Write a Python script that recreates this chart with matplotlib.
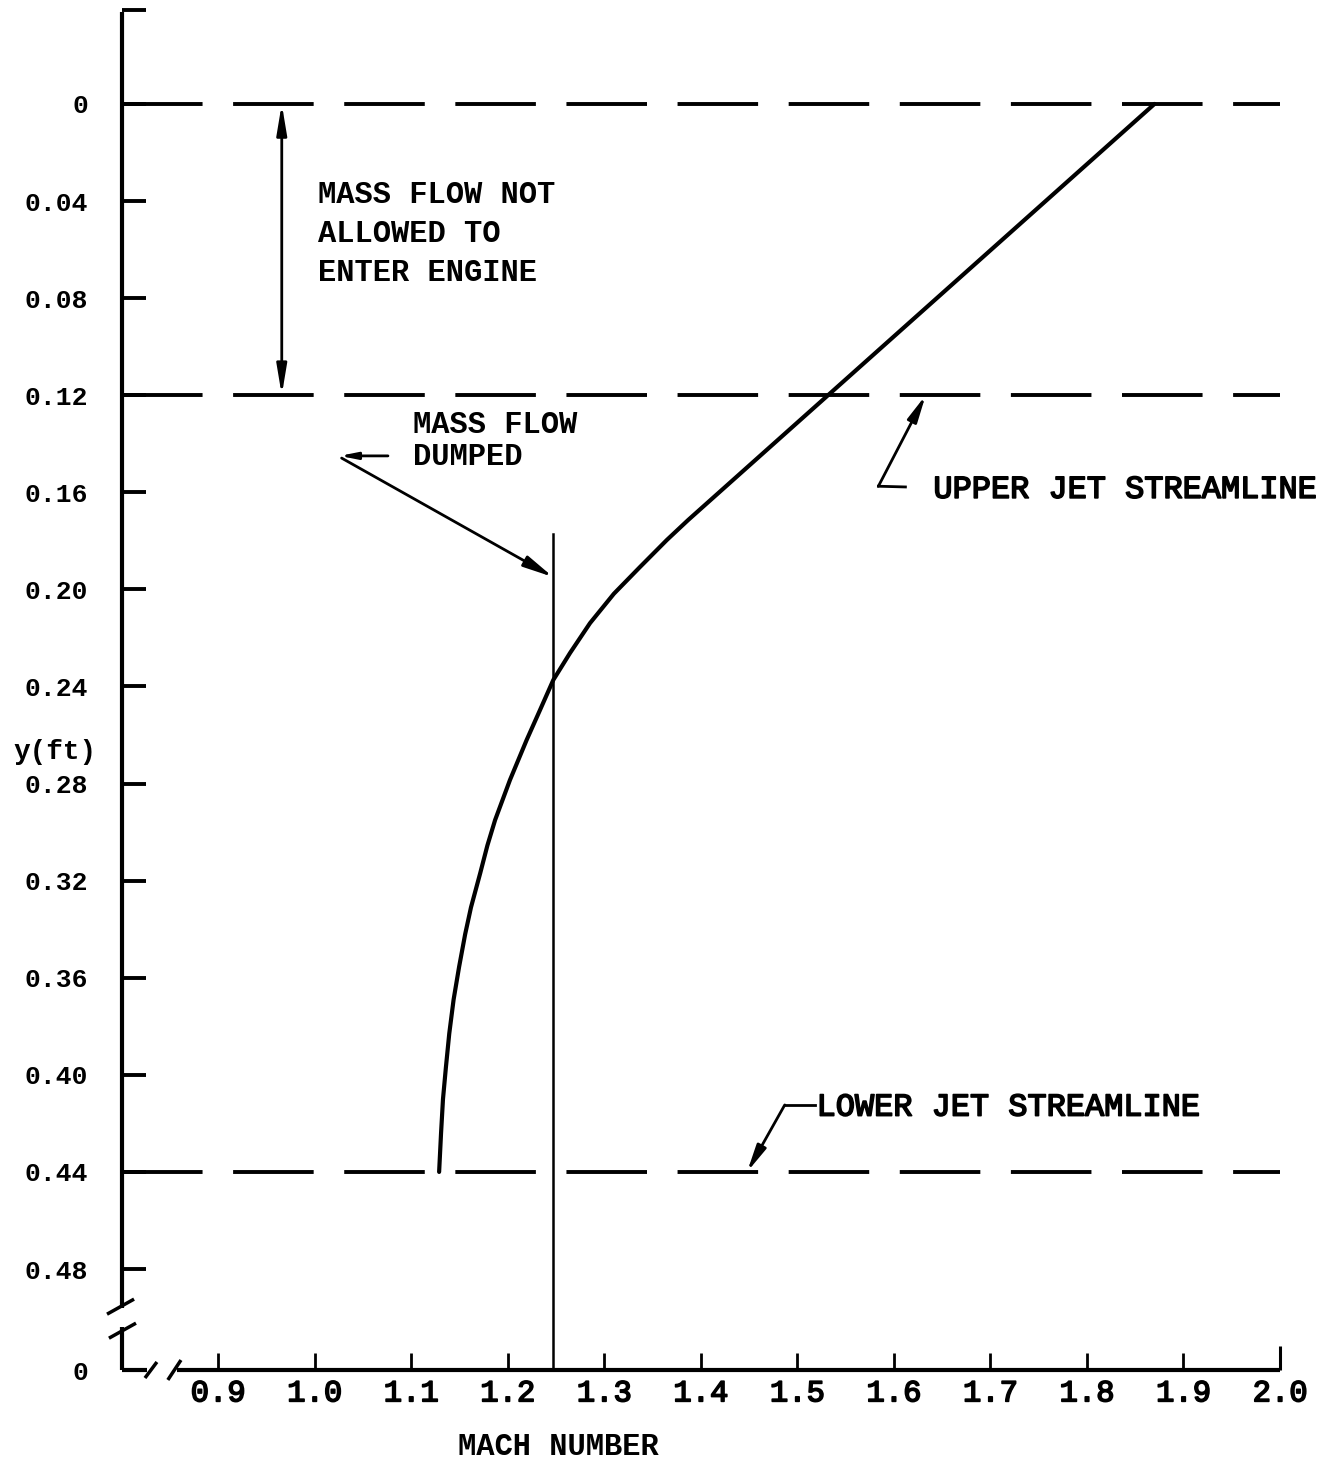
"""Mach number distribution across the jet, with jet streamlines and dumped mass flow."""

import matplotlib.pyplot as plt
import matplotlib.patheffects as pe

plt.rcParams["font.family"] = ["Liberation Mono", "DejaVu Sans Mono"]
plt.rcParams["lines.scale_dashes"] = False

# Mach number profile
mach = [1.129, 1.131, 1.133, 1.136, 1.1395, 1.144, 1.1497, 1.156, 1.162, 1.1715,
        1.179, 1.187, 1.2024, 1.2197, 1.2335, 1.2473, 1.2646, 1.2853, 1.310,
        1.337, 1.365, 1.387, 1.870]
y_ft = [0.440, 0.424, 0.410, 0.397, 0.383, 0.369, 0.3555, 0.342, 0.331, 0.317,
        0.3055, 0.295, 0.2785, 0.262, 0.2497, 0.2373, 0.2262, 0.2139, 0.2018,
        0.1908, 0.1796, 0.1714, 0.0]

streamlines = [0.0, 0.12, 0.44]      # y of the dashed lines
dump_mach = 1.247                    # vertical line
dump_top = 0.177

x_ticks = [0.9, 1.0, 1.1, 1.2, 1.3, 1.4, 1.5, 1.6, 1.7, 1.8, 1.9]
y_ticks = [0.0, 0.04, 0.08, 0.12, 0.16, 0.20, 0.24, 0.28, 0.32, 0.36, 0.40, 0.44, 0.48]
y_labels = ["0", "0.04", "0.08", "0.12", "0.16", "0.20", "0.24", "0.28",
            "0.32", "0.36", "0.40", "0.44", "0.48"]

XMIN, XMAX = 0.8, 2.0
YTOP, YBOT = -0.0387, 0.5216

W, H = 1333, 1466
fig = plt.figure(figsize=(W / 100, H / 100), dpi=100)
ax = fig.add_axes([121.5 / W, (H - 1370) / H, (1280 - 121.5) / W, (1370 - 10) / H])
ax.set_xlim(XMIN, XMAX)
ax.set_ylim(YBOT, YTOP)
for s in ax.spines.values():
    s.set_visible(False)

ink = dict(color="black", clip_on=False, solid_capstyle="butt")
thick = [pe.withStroke(linewidth=1.2, foreground="black")]

# broken left axis
ax.plot([XMIN, XMIN], [YTOP + 0.0008, 0.496], lw=3, **ink)
ax.plot([XMIN, XMIN], [0.504, YBOT], lw=3, **ink)
ax.plot([0.785, 0.813], [0.4986, 0.4924], lw=2.5, **ink)
ax.plot([0.787, 0.815], [0.5085, 0.5023], lw=2.5, **ink)

# broken bottom axis
ax.plot([XMIN, 0.826], [YBOT, YBOT], lw=3, **ink)
ax.plot([0.858, XMAX], [YBOT, YBOT], lw=3, **ink)
ax.plot([0.8243, 0.8367], [0.5249, 0.5183], lw=2.5, **ink)
ax.plot([0.848, 0.8616], [0.5257, 0.5175], lw=2.5, **ink)

# ticks
ax.set_xticks(x_ticks, labels=[f"{v:.1f}" for v in x_ticks])
ax.set_xticks([XMAX], labels=["2.0"], minor=True)
ax.tick_params(axis="x", which="major", direction="in", length=12, width=2,
               pad=6, labelsize=22)
ax.tick_params(axis="x", which="minor", direction="in", length=17, width=2.2,
               pad=6, labelsize=22)
for lab in ax.get_xticklabels(which="both"):
    lab.set_path_effects(thick)

ax.set_yticks([YTOP] + y_ticks + [YBOT], labels=[""] + y_labels + ["0"])
ax.tick_params(axis="y", direction="in", length=17, width=2.8, pad=24,
               labelsize=19)
for lab in ax.get_yticklabels():
    lab.set_fontweight("bold")

# jet streamlines
ax.hlines(streamlines, XMIN, XMAX, colors="black", lw=2.8,
          linestyles=[(0, (58, 22))] * len(streamlines))

# Mach number profile
ax.plot(mach, y_ft, color="black", lw=3, solid_capstyle="round",
        solid_joinstyle="round")

# dumped-flow boundary
ax.plot([dump_mach, dump_mach], [dump_top, YBOT], color="black", lw=1.8, clip_on=False)

head = dict(color="black", lw=2, shrinkA=0, shrinkB=0)

# mass flow not allowed to enter engine
ax.annotate("", xy=(0.966, 0.0), xytext=(0.966, 0.12),
            arrowprops=dict(arrowstyle="<|-|>,head_length=1.8,head_width=0.3", **head))
ax.text(1.0036, 0.0536, "MASS FLOW NOT\nALLOWED TO\nENTER ENGINE", fontsize=22,
        fontweight="bold", ha="left", va="center", linespacing=1.38)

# mass flow dumped
ax.text(1.102, 0.139, "MASS FLOW\nDUMPED", fontsize=22, fontweight="bold",
        ha="left", va="center", linespacing=1.08)
ax.annotate("", xy=(1.026, 0.145), xytext=(1.076, 0.145),
            arrowprops=dict(arrowstyle="-|>,head_length=1.0,head_width=0.2", **head))
ax.annotate("", xy=(dump_mach, 0.1949), xytext=(1.028, 0.1459),
            arrowprops=dict(arrowstyle="-|>,head_length=1.8,head_width=0.35", **head))

# upper jet streamline label
ax.plot([1.612, 1.584], [0.1578, 0.1575], color="black", lw=2)
ax.annotate("", xy=(1.633, 0.12), xytext=(1.584, 0.1575),
            arrowprops=dict(arrowstyle="-|>,head_length=1.6,head_width=0.3", **head))
ax.text(1.641, 0.159, "UPPER JET STREAMLINE", fontsize=23, ha="left", va="center",
        path_effects=thick)

# lower jet streamline label
ax.plot([1.518, 1.487], [0.4124, 0.4124], color="black", lw=2)
ax.annotate("", xy=(1.448, 0.44), xytext=(1.487, 0.4124),
            arrowprops=dict(arrowstyle="-|>,head_length=1.6,head_width=0.3", **head))
ax.text(1.520, 0.4135, "LOWER JET STREAMLINE", fontsize=23, ha="left", va="center",
        path_effects=thick)

fig.text(55 / W, 1 - 752 / H, "y(ft)", fontsize=20, fontweight="bold",
         ha="center", va="center")
fig.text(558 / W, 1 - 1447 / H, "MACH NUMBER", fontsize=22, fontweight="bold",
         ha="center", va="center")

fig.savefig("out.png", dpi=100)
